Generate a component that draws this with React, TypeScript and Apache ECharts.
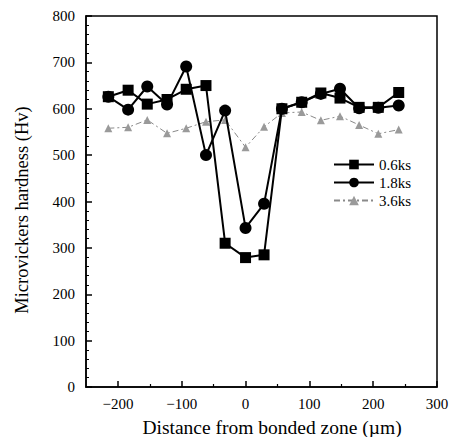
import React, { useEffect, useRef } from "react";
import * as echarts from "echarts";

const positions = [-215, -184, -154, -123, -93, -62, -32, 0, 29, 57, 88, 118, 148, 178, 208, 240];
const hv06 = [626, 640, 610, 620, 642, 650, 310, 279, 285, 600, 614, 634, 623, 603, 603, 635];
const hv18 = [626, 598, 648, 609, 691, 500, 596, 343, 395, 600, 614, 632, 643, 601, 602, 607];
const hv36 = [558, 560, 576, 547, 558, 572, 576, 517, 561, 591, 593, 575, 584, 565, 546, 555];
const seriesNames = ["0.6ks", "1.8ks", "3.6ks"];
const xMajor = [-200, -100, 0, 100, 200, 300];
const xMinor = [-150, -50, 50, 150, 250];
const xTitle = "Distance from bonded zone (\u00b5m)";
const yTitle = "Microvickers hardness (Hv)";

const FONT = "'Liberation Serif', serif";

export default function App() {
  const ref = useRef<HTMLDivElement>(null);
  useEffect(() => {
    if (!ref.current) return;
    const chart = echarts.init(ref.current, null, { renderer: "svg" });
    const pts = (vals: number[]) => positions.map((x, i) => [x, vals[i]]);
    const fmt = (v: number) => String(v).replace("-", "\u2212");
    chart.setOption({
      animation: false,
      backgroundColor: "#fff",
      grid: {
        left: 86,
        right: 19,
        top: 16,
        bottom: 50,
        show: true,
        borderColor: "#000",
        borderWidth: 1.5,
      },
      legend: {
        orient: "vertical",
        left: 333,
        top: 157,
        padding: 0,
        itemWidth: 40,
        itemHeight: 12,
        itemGap: 3,
        data: seriesNames,
        textStyle: { fontFamily: FONT, fontSize: 15, color: "#000" },
      },
      graphic: [
        {
          type: "text",
          x: 272,
          y: 427,
          style: {
            text: xTitle,
            font: `19.5px ${FONT}`,
            fill: "#000",
            textAlign: "center",
            textVerticalAlign: "middle",
          },
        },
        {
          type: "text",
          x: 22,
          y: 210,
          rotation: Math.PI / 2,
          style: {
            text: yTitle,
            font: `18.5px ${FONT}`,
            fill: "#000",
            textAlign: "center",
            textVerticalAlign: "middle",
          },
        },
      ],
      xAxis: [
        {
          type: "value",
          min: -250,
          max: 300,
          position: "bottom",
          splitLine: { show: false },
          axisLine: { show: true, onZero: false, lineStyle: { color: "#000", width: 1.5 } },
          axisTick: {
            show: true,
            inside: true,
            length: 6,
            customValues: xMajor,
            lineStyle: { color: "#000", width: 1.5 },
          },
          axisLabel: {
            customValues: xMajor,
            formatter: fmt,
            fontFamily: FONT,
            fontSize: 15,
            color: "#000",
            margin: 9,
          },
        },
        {
          type: "value",
          min: -250,
          max: 300,
          position: "bottom",
          splitLine: { show: false },
          axisLine: { show: false, onZero: false },
          axisLabel: { show: false },
          axisTick: {
            show: true,
            inside: true,
            length: 3,
            customValues: xMinor,
            lineStyle: { color: "#000", width: 1.2 },
          },
        },
      ],
      yAxis: {
        type: "value",
        min: 0,
        max: 800,
        interval: 100,
        splitLine: { show: false },
        axisLine: { show: true, onZero: false, lineStyle: { color: "#000", width: 1.5 } },
        axisTick: { show: true, inside: true, length: 6, lineStyle: { color: "#000", width: 1.5 } },
        minorTick: { show: true, splitNumber: 5, length: 3, lineStyle: { color: "#000", width: 1 } },
        axisLabel: { fontFamily: FONT, fontSize: 15, color: "#000", margin: 11 },
      },
      series: [
        {
          name: seriesNames[2],
          type: "line",
          data: pts(hv36),
          symbol: "triangle",
          symbolSize: 8,
          itemStyle: { color: "#9a9a9a" },
          lineStyle: { color: "#8a8a8a", width: 1, type: [6, 3, 2, 3] },
          z: 1,
        },
        {
          name: seriesNames[1],
          type: "line",
          data: pts(hv18),
          symbol: "circle",
          symbolSize: 12,
          itemStyle: { color: "#000" },
          lineStyle: { color: "#000", width: 2 },
          z: 2,
        },
        {
          name: seriesNames[0],
          type: "line",
          data: pts(hv06),
          symbol: "rect",
          symbolSize: 11,
          itemStyle: { color: "#000" },
          lineStyle: { color: "#000", width: 2 },
          z: 3,
        },
      ],
    });
    return () => chart.dispose();
  }, []);
  return (
    <div
      ref={ref}
      style={{ position: "fixed", left: 0, top: 0, width: 456, height: 437 }}
    />
  );
}
